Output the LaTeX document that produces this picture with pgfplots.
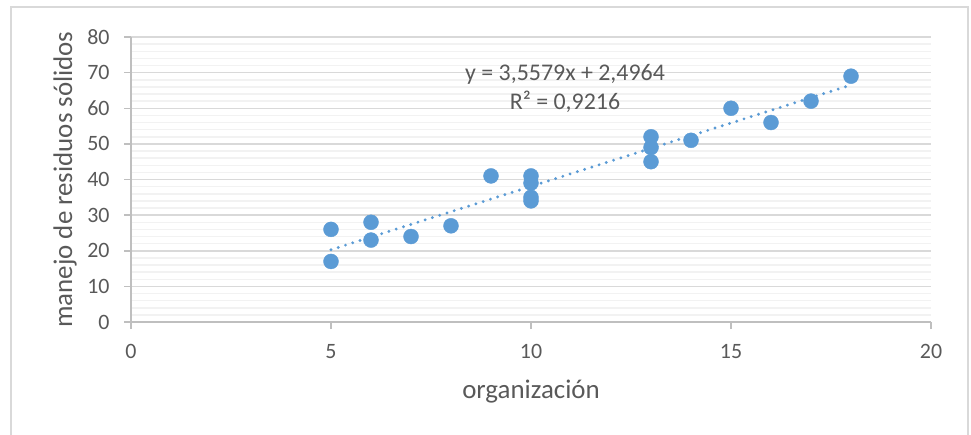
\documentclass[border=0pt]{standalone}
\usepackage{pgfplots}
\pgfplotsset{compat=1.18}
\usepackage{fontspec}
\setmainfont{Carlito}
\definecolor{excelblue}{HTML}{5B9BD5}
\definecolor{txt}{HTML}{595959}
\definecolor{majorc}{HTML}{D9D9D9}
\definecolor{minorc}{HTML}{F2F2F2}
\definecolor{axisc}{HTML}{BFBFBF}
\begin{document}
\begin{tikzpicture}[x=1bp,y=1bp]
\useasboundingbox (0,0) rectangle (971,-435);
\draw[majorc, line width=1.5bp] (11,-7) rectangle (968,-470);
\begin{axis}[
  at={(131bp,-322bp)}, anchor=south west,
  scale only axis, width=800bp, height=285bp,
  xmin=0, xmax=20, ymin=0, ymax=80,
  xtick={0,5,...,20}, ytick={0,10,...,80},
  minor y tick num=4,
  ymajorgrids, yminorgrids,
  major grid style={majorc, line width=1.5bp},
  minor grid style={minorc, line width=1.5bp},
  axis x line*=bottom, axis y line*=left,
  axis line style={axisc, line width=1.5bp},
  tick align=outside, major tick length=7bp, minor tick length=0pt,
  tick style={axisc, line width=1.5bp},
  /pgf/number format/assume math mode=true,
  ticklabel style={font=\fontsize{22}{26}\selectfont, text=txt},
  xticklabel style={yshift=-12bp},
  yticklabel style={xshift=-11bp},
  xlabel={organización}, ylabel={manejo de residuos sólidos},
  every axis x label/.style={at={(axis description cs:0.5,-0.2456)}, anchor=center, font=\fontsize{27}{32}\selectfont, text=txt},
  every axis y label/.style={at={(axis description cs:-0.0825,0.5)}, anchor=center, rotate=90, font=\fontsize{27}{32}\selectfont, text=txt},
  clip=false,
]
\addplot[only marks, mark=*, mark size=7.5bp, mark options={draw=excelblue, fill=excelblue}] coordinates {
  (5,26) (5,17) (6,28) (6,23) (7,24) (8,27) (9,41)
  (10,41) (10,39) (10,35) (10,34)
  (13,52) (13,49) (13,45) (14,51) (15,60) (16,56) (17,62) (18,69)
};
\addplot[excelblue, line width=3.2bp, dash pattern=on 0bp off 7.6bp, line cap=round] coordinates {(5,20.286) (18,66.538)};
\end{axis}
\node[text=txt, font=\fontsize{24}{28}\selectfont] at (565,-74) {y = 3,5579x + 2,4964};
\node[text=txt, font=\fontsize{24}{28}\selectfont] at (565,-102) {R² = 0,9216};
\end{tikzpicture}
\end{document}
